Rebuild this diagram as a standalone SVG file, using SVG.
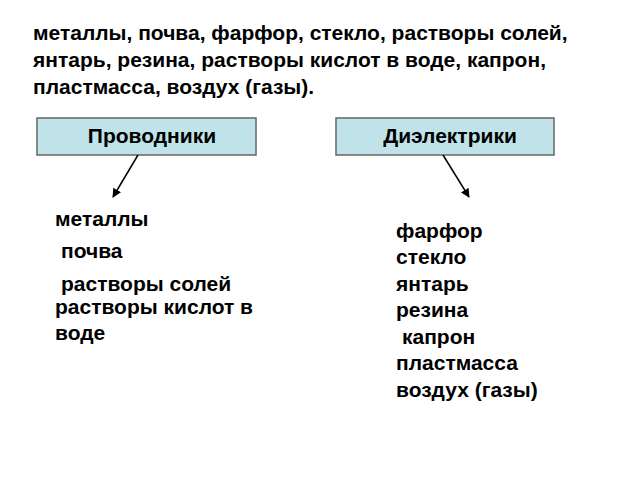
<svg xmlns="http://www.w3.org/2000/svg" width="640" height="480" viewBox="0 0 640 480">
<defs>
<style>
text{font-family:"Liberation Sans",Arial,sans-serif;font-weight:bold;font-size:21px;fill:#000}
.box{fill:#bfe3e8;stroke:#666;stroke-width:1.5}
.conn{stroke:#000;stroke-width:1.5;fill:none;marker-end:url(#ah)}
</style>
<marker id="ah" viewBox="0 0 10 10" refX="9" refY="5" markerWidth="6" markerHeight="6" orient="auto"><path d="M0,0L10,5L0,10z" fill="#000"/></marker>
</defs>
<rect width="640" height="480" fill="#fff"/>
<g id="intro">
<text x="33" y="40">металлы, почва, фарфор, стекло, растворы солей,</text>
<text x="33" y="67">янтарь, резина, растворы кислот в воде, капрон,</text>
<text x="33" y="94">пластмасса, воздух (газы).</text>
</g>
<g id="conductors"><rect class="box" x="37" y="118" width="219" height="37"/><text x="152" y="143" text-anchor="middle">Проводники</text></g>
<g id="dielectrics"><rect class="box" x="336" y="118" width="218" height="37"/><text x="450" y="143" text-anchor="middle">Диэлектрики</text></g>
<g id="connectors">
<line class="conn" x1="138" y1="155" x2="113" y2="197"/>
<line class="conn" x1="443" y1="155" x2="469" y2="197"/>
</g>
<g id="list-conductors">
<text x="55" y="226">металлы</text>
<text x="61" y="258">почва</text>
<text x="61" y="291">растворы солей</text>
<text x="55" y="314">растворы кислот в</text>
<text x="55" y="340">воде</text>
</g>
<g id="list-dielectrics">
<text x="396" y="238">фарфор</text>
<text x="396" y="264">стекло</text>
<text x="396" y="291">янтарь</text>
<text x="396" y="317">резина</text>
<text x="402" y="344">капрон</text>
<text x="396" y="370">пластмасса</text>
<text x="396" y="397">воздух (газы)</text>
</g>
</svg>
